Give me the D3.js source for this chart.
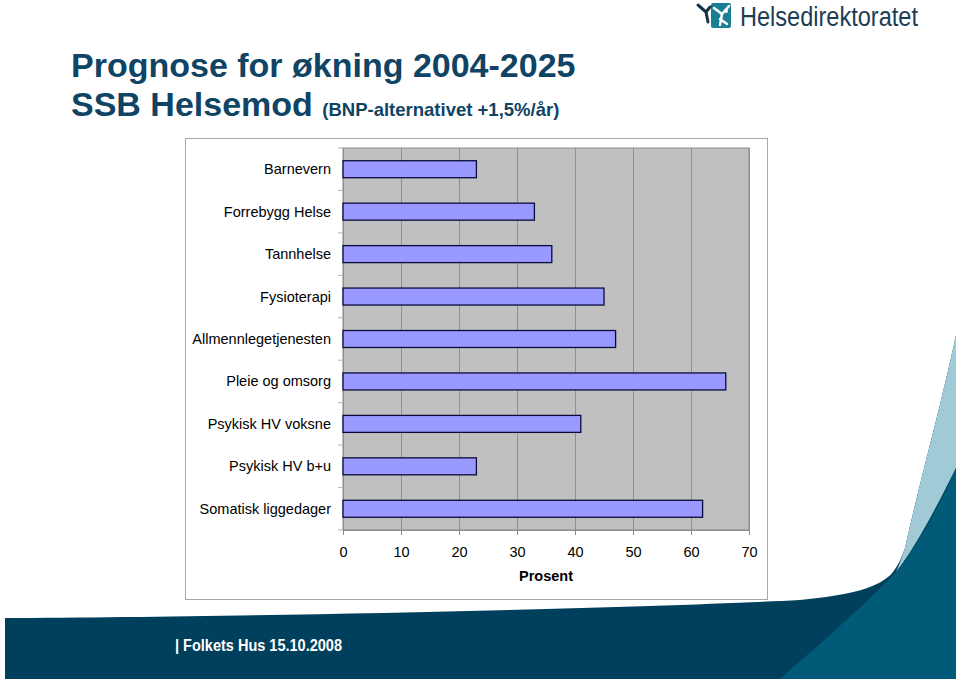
<!DOCTYPE html>
<html>
<head>
<meta charset="utf-8">
<script src="https://cdn.jsdelivr.net/npm/d3@7"></script>
<style>
  body { margin: 0; background: #fff; }
  svg { display: block; font-family: "Liberation Sans", Arial, sans-serif; }
</style>
</head>
<body>
<svg id="slide"></svg>
<script>
const width = 960;
const height = 681;

// chart data
const categories = ["Barnevern", "Forrebygg Helse", "Tannhelse", "Fysioterapi",
  "Allmennlegetjenesten", "Pleie og omsorg", "Psykisk HV voksne",
  "Psykisk HV b+u", "Somatisk liggedager"];
const values = [23, 33, 36, 45, 47, 66, 41, 23, 62];
const xTicks = [0, 10, 20, 30, 40, 50, 60, 70];

const titleColor = "#0f4464";
const barFill = "#9999ff";
const barStroke = "#0a0a3c";

const svg = d3.select("#slide")
  .attr("width", width)
  .attr("height", height);

// --- slide background swooshes ---
svg.append("path")
  .attr("d", "M5,679 L5,618 C250,617 650,608 800,600 C850,595 880,588 893,572 Q900,563 905,548 C920,480 940,410 956,335 L956,679 Z")
  .attr("fill", "#00405c");
svg.append("path")
  .attr("d", "M905,548 C920,480 940,410 956,335 L956,468 C935,510 915,548 896,572 Q900,563 905,548 Z")
  .attr("fill", "#9fcad6");
svg.append("path")
  .attr("d", "M780,679 C830,635 870,600 896,572 C920,542 940,505 956,468 L956,679 Z")
  .attr("fill", "#015a78");

svg.append("text")
  .attr("x", 175)
  .attr("y", 651)
  .attr("fill", "#fff")
  .attr("textLength", 167)
  .attr("lengthAdjust", "spacingAndGlyphs")
  .style("font-weight", "bold")
  .style("font-size", "16px")
  .text("| Folkets Hus 15.10.2008");

// --- logo ---
const logo = svg.append("g");
logo.append("rect")
  .attr("x", 711).attr("y", 3).attr("width", 20).attr("height", 25)
  .attr("rx", 2).attr("fill", "#1a7f93");
logo.append("path")
  .attr("d", "M714,8 L722,14 L729,6 M722,14 L720,25 M720,19 L727,24")
  .attr("stroke", "#fff").attr("stroke-width", 2.5).attr("fill", "none")
  .attr("stroke-linecap", "round");
logo.append("circle").attr("cx", 726).attr("cy", 11).attr("r", 2).attr("fill", "#fff");
logo.append("path")
  .attr("d", "M698,5 L706,12 L710,7 M706,12 L708,22")
  .attr("stroke", "#16344a").attr("stroke-width", 3).attr("fill", "none")
  .attr("stroke-linecap", "round");
logo.append("text")
  .attr("x", 740)
  .attr("y", 26)
  .attr("fill", "#1d3d52")
  .attr("textLength", 178)
  .attr("lengthAdjust", "spacingAndGlyphs")
  .style("font-size", "27px")
  .text("Helsedirektoratet");

// --- titles ---
svg.append("text")
  .attr("x", 71).attr("y", 77)
  .attr("fill", titleColor)
  .style("font-weight", "bold").style("font-size", "34px")
  .text("Prognose for økning 2004-2025");
const t2 = svg.append("text")
  .attr("x", 71).attr("y", 116)
  .attr("fill", titleColor)
  .style("font-weight", "bold").style("font-size", "34px");
t2.append("tspan").text("SSB Helsemod ");
t2.append("tspan").style("font-size", "18.5px").text("(BNP-alternativet +1,5%/år)");

// --- chart frame ---
svg.append("rect")
  .attr("x", 185.5).attr("y", 138.5)
  .attr("width", 582).attr("height", 461)
  .attr("fill", "#fff").attr("stroke", "#a8a8a8");

const plotTop = 148, plotBottom = 530;
const x = d3.scaleLinear().domain([0, 70]).range([343, 749]);
const y = d3.scaleBand().domain(categories).range([plotTop, plotBottom])
  .paddingInner(0.6).paddingOuter(0.3);

svg.append("rect")
  .attr("x", x(0)).attr("y", plotTop)
  .attr("width", x(70) - x(0)).attr("height", plotBottom - plotTop)
  .attr("fill", "#c0c0c0").attr("stroke", "#8a8a8a");

// gridlines
svg.append("g")
  .attr("transform", `translate(0,${plotBottom})`)
  .call(d3.axisBottom(x).tickValues(xTicks).tickSize(-(plotBottom - plotTop)).tickFormat(""))
  .call(g => g.select(".domain").remove())
  .call(g => g.selectAll("line").attr("stroke", "#8f8f8f"));

// x axis ticks + labels
svg.append("g")
  .attr("transform", `translate(0,${plotBottom})`)
  .call(d3.axisBottom(x).tickValues(xTicks).tickSize(5).tickPadding(12))
  .call(g => g.select(".domain").attr("stroke", "#8a8a8a"))
  .call(g => g.selectAll("line").attr("stroke", "#8a8a8a"))
  .call(g => g.selectAll("text")
    .attr("fill", "#000")
    .style("font-family", "'Liberation Sans', Arial, sans-serif")
    .style("font-size", "14.5px"));

svg.append("text")
  .attr("x", (x(0) + x(70)) / 2)
  .attr("y", 581)
  .attr("text-anchor", "middle")
  .style("font-weight", "bold").style("font-size", "14.5px")
  .text("Prosent");

// category ticks at band boundaries
const boundaries = d3.range(categories.length + 1).map(i => plotTop + i * (plotBottom - plotTop) / categories.length);
svg.append("g").selectAll("line")
  .data(boundaries).enter().append("line")
  .attr("x1", x(0) - 5).attr("x2", x(0))
  .attr("y1", d => d).attr("y2", d => d)
  .attr("stroke", "#b5b5b5");

// category labels
svg.append("g").selectAll("text")
  .data(categories).enter().append("text")
  .attr("x", 331)
  .attr("y", d => y(d) + y.bandwidth() / 2 + 5)
  .attr("text-anchor", "end")
  .style("font-size", "14.5px")
  .text(d => d);

// bars
svg.append("g").selectAll("rect")
  .data(categories).enter().append("rect")
  .attr("x", x(0))
  .attr("y", d => y(d))
  .attr("width", (d, i) => x(values[i]) - x(0))
  .attr("height", y.bandwidth())
  .attr("fill", barFill)
  .attr("stroke", barStroke)
  .attr("stroke-width", 1.3);
</script>
</body>
</html>
